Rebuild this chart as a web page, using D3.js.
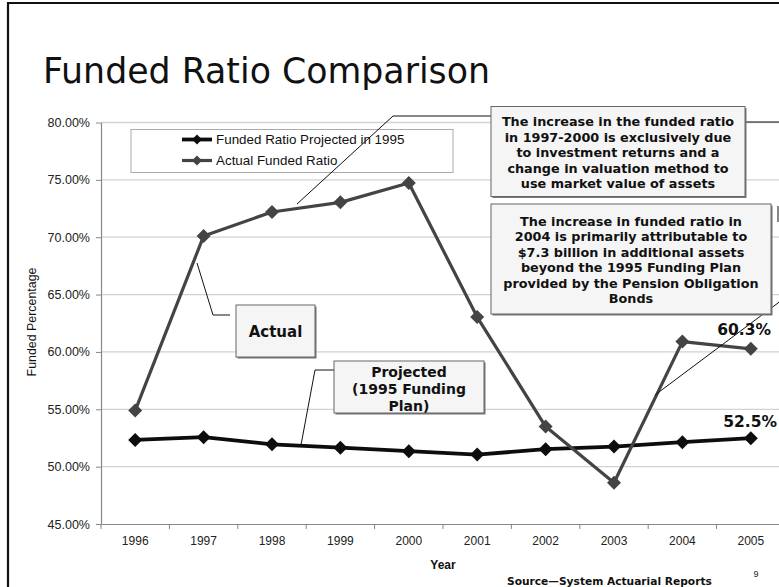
<!DOCTYPE html>
<html>
<head>
<meta charset="utf-8">
<script src="https://cdn.jsdelivr.net/npm/d3@7/dist/d3.min.js"></script>
<style>
  html, body { margin: 0; padding: 0; background: #fff; }
  svg { display: block; }
</style>
</head>
<body>
<svg id="chart" width="779" height="587"></svg>
<script>
// ---------- data ----------
const years = ["1996","1997","1998","1999","2000","2001","2002","2003","2004","2005"];
const projected = [52.33, 52.57, 51.95, 51.65, 51.35, 51.05, 51.52, 51.75, 52.13, 52.48];
const actual    = [54.89, 70.10, 72.20, 73.04, 74.73, 63.04, 53.49, 48.60, 60.90, 60.27];
const yTicks = [45, 50, 55, 60, 65, 70, 75, 80];
const seriesNames = ["Funded Ratio Projected in 1995", "Actual Funded Ratio"];
const note1 = ["The increase in the funded ratio", "in 1997-2000 is exclusively due", "to investment returns and a", "change in valuation method to", "use market value of assets"];
const note2 = ["The increase in funded ratio in", "2004 is primarily attributable to", "$7.3 billion in additional assets", "beyond the 1995 Funding Plan", "provided by the Pension Obligation", "Bonds"];
const projLabel = ["Projected", "(1995 Funding", "Plan)"];

// ---------- setup ----------
const svg = d3.select("#chart");
const W = 779, H = 587;
const ARIAL = "'Liberation Sans', Arial, sans-serif";
const VERD = "'DejaVu Sans', Verdana, sans-serif";

const x = d3.scaleBand().domain(years).range([101, 785]);
const y = d3.scaleLinear().domain([45, 80]).range([524, 122.5]);
const cx = d => x(d) + x.bandwidth() / 2;

function fit(sel, target) {
  const n = sel.node();
  const fs = parseFloat(sel.attr("font-size"));
  const w = n.getComputedTextLength();
  if (w > 0) sel.attr("font-size", (fs * target / w).toFixed(2));
  return sel;
}

// slide frame
svg.append("line").attr("x1", 8).attr("x2", 8).attr("y1", 3).attr("y2", H)
  .attr("stroke", "#111").attr("stroke-width", 2.2);
svg.append("line").attr("x1", 7).attr("x2", W).attr("y1", 3).attr("y2", 3)
  .attr("stroke", "#111").attr("stroke-width", 2.2);

// title
fit(svg.append("text").attr("x", 43).attr("y", 83)
  .attr("font-family", VERD).attr("font-size", 29).attr("fill", "#111")
  .text("Funded Ratio Comparison"), 447);

// gridlines
svg.append("g").selectAll("line").data(yTicks.filter(d => d > 45)).join("line")
  .attr("x1", 101).attr("x2", W).attr("y1", d => y(d)).attr("y2", d => y(d))
  .attr("stroke", "#d2d2d2").attr("stroke-width", 1.3);

// y axis
const yAxis = svg.append("g").attr("transform", "translate(101,0)")
  .call(d3.axisLeft(y).tickValues(yTicks).tickFormat(d => d.toFixed(2) + "%").tickSize(5).tickSizeOuter(0).tickPadding(6));
yAxis.select(".domain").attr("stroke", "#888").attr("stroke-width", 1.2);
yAxis.selectAll(".tick line").attr("stroke", "#888");
yAxis.selectAll("text").attr("font-family", ARIAL).attr("font-size", 12.5).attr("fill", "#222");

// x axis
const xAxis = svg.append("g").attr("transform", "translate(0,524)")
  .call(d3.axisBottom(x).tickSize(0).tickPadding(12));
xAxis.select(".domain").attr("stroke", "#888").attr("stroke-width", 1.2);
xAxis.selectAll("text").attr("font-family", ARIAL).attr("font-size", 12).attr("fill", "#222");
xAxis.selectAll(".xt").data(years).join("line").attr("class", "xt")
  .attr("x1", d => x(d)).attr("x2", d => x(d)).attr("y1", 0).attr("y2", 5)
  .attr("stroke", "#888");

// axis titles
svg.append("text").attr("transform", "translate(36,322) rotate(-90)")
  .attr("text-anchor", "middle").attr("font-family", ARIAL).attr("font-size", 12.4)
  .attr("fill", "#111").text("Funded Percentage");
svg.append("text").attr("x", 443).attr("y", 569).attr("text-anchor", "middle")
  .attr("font-family", ARIAL).attr("font-weight", "bold").attr("font-size", 12)
  .attr("fill", "#111").text("Year");
fit(svg.append("text").attr("x", 507).attr("y", 585)
  .attr("font-family", VERD).attr("font-weight", "bold").attr("font-size", 11)
  .attr("fill", "#111").text("Source\u2014System Actuarial Reports"), 205);
svg.append("text").attr("x", 756).attr("y", 577).attr("text-anchor", "middle")
  .attr("font-family", ARIAL).attr("font-size", 9).attr("fill", "#222").text("9");

// series
const diamond = "M0,-7L7,0L0,7L-7,0Z";
const series = [
  { vals: projected, color: "#0d0d0d", width: 3.8 },
  { vals: actual, color: "#444444", width: 3.2 }
];
const line = d3.line().x((d, i) => cx(years[i])).y(d => y(d));
series.forEach(s => {
  svg.append("path").attr("d", line(s.vals)).attr("fill", "none")
    .attr("stroke", s.color).attr("stroke-width", s.width).attr("stroke-linejoin", "round");
  svg.append("g").selectAll("path").data(s.vals).join("path")
    .attr("d", diamond)
    .attr("transform", (d, i) => `translate(${cx(years[i])},${y(d)})`)
    .attr("fill", s.color);
});

// legend
const lg = svg.append("g");
lg.append("rect").attr("x", 131).attr("y", 129.5).attr("width", 322).attr("height", 43)
  .attr("fill", "#fff").attr("stroke", "#aaa").attr("stroke-width", 1);
series.forEach((s, i) => {
  const yy = 139.5 + i * 21;
  lg.append("line").attr("x1", 182).attr("x2", 212).attr("y1", yy).attr("y2", yy)
    .attr("stroke", s.color).attr("stroke-width", s.width);
  lg.append("path").attr("d", "M0,-5L5,0L0,5L-5,0Z").attr("transform", `translate(197,${yy})`).attr("fill", s.color);
  lg.append("text").attr("x", 216).attr("y", yy).attr("dy", "0.36em")
    .attr("font-family", ARIAL).attr("font-size", 13.4).attr("fill", "#111").text(seriesNames[i]);
});

// leader lines
const leader = pts => svg.append("path").attr("d", d3.line()(pts)).attr("fill", "none")
  .attr("stroke", "#111").attr("stroke-width", 1);
leader([[491, 116], [393, 116], [297, 204]]);
leader([[745, 122], [W, 122]]);
leader([[778, 206], [778, 222]]);
leader([[655, 395], [790, 294]]);
leader([[230, 315], [213, 315], [197, 263]]);
leader([[334, 370], [315, 370], [301, 445]]);

// callout boxes
function box(x0, y0, w, h, lines, fs, lh, tyStart) {
  const g = svg.append("g");
  g.append("rect").attr("x", x0 + 1.5).attr("y", y0 + 1.5).attr("width", w).attr("height", h).attr("fill", "#777");
  g.append("rect").attr("x", x0).attr("y", y0).attr("width", w).attr("height", h)
    .attr("fill", "#f5f5f5").attr("stroke", "#666").attr("stroke-width", 1);
  lines.forEach((t, i) => {
    g.append("text").attr("x", x0 + w / 2).attr("y", tyStart + i * lh).attr("dy", "0.35em")
      .attr("text-anchor", "middle").attr("font-family", VERD).attr("font-weight", "bold")
      .attr("font-size", fs).attr("fill", "#111").text(t);
  });
  return g;
}
box(491, 106.5, 254, 90, note1, 12.8, 15.5, 122);
box(491, 204, 280, 110, note2, 12.8, 15.5, 221.5);
box(236, 305, 79, 52, ["Actual"], 15, 0, 332);
box(334, 361, 150, 52, projLabel, 14, 17, 372);

// value labels
svg.append("text").attr("x", 771).attr("y", y(actual[9]) - 19).attr("dy", "0.35em")
  .attr("text-anchor", "end").attr("font-family", VERD).attr("font-weight", "bold")
  .attr("font-size", 15.5).attr("fill", "#111").text(actual[9].toFixed(1) + "%");
svg.append("text").attr("x", 777).attr("y", y(projected[9]) - 16.5).attr("dy", "0.35em")
  .attr("text-anchor", "end").attr("font-family", VERD).attr("font-weight", "bold")
  .attr("font-size", 15.5).attr("fill", "#111").text(projected[9].toFixed(1) + "%");
</script>
</body>
</html>
